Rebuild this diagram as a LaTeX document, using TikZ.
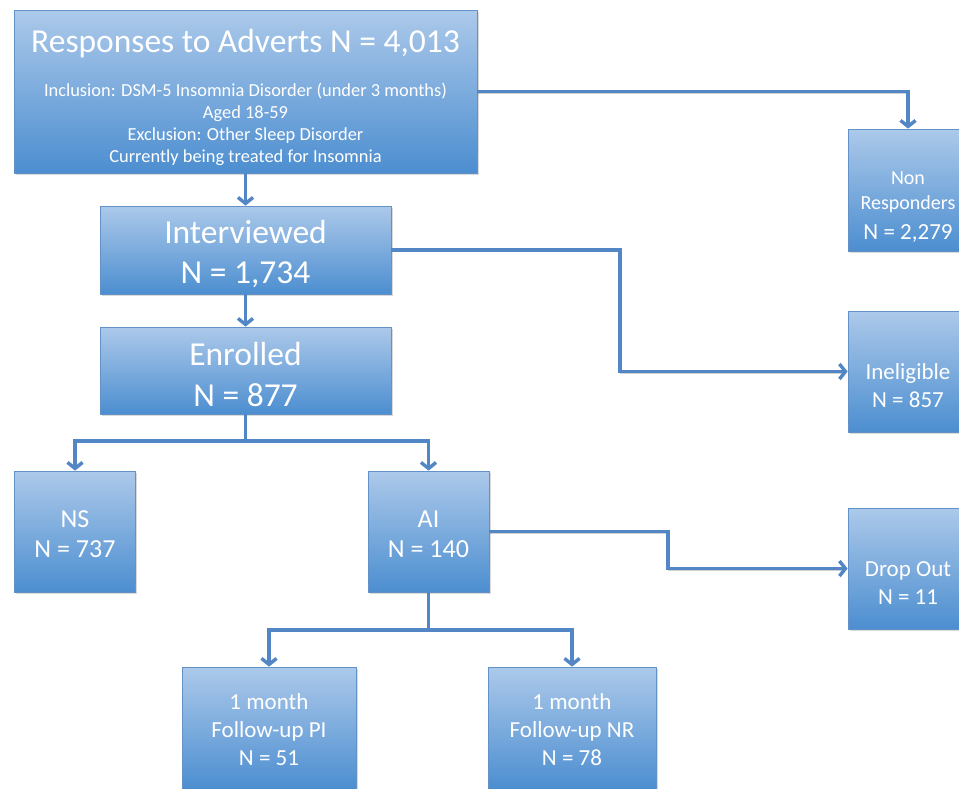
\documentclass[tikz,border=0pt]{standalone}
\usepackage{fontspec}
\setmainfont{Carlito}
\usetikzlibrary{arrows.meta,shadows}
\definecolor{ln}{RGB}{82,134,196}
\definecolor{btop}{RGB}{172,201,234}
\definecolor{bbot}{RGB}{76,142,208}
\definecolor{bdr}{RGB}{98,146,200}
\begin{document}
\begin{tikzpicture}[x=1pt,y=-1pt,
  box/.style={draw=bdr, line width=0.8pt, top color=btop, bottom color=bbot, inner sep=0pt,
    drop shadow={shadow xshift=1.8pt,shadow yshift=-1.8pt,opacity=0.3}},
  txt/.style={text=white, align=center, inner sep=0pt, font=\fontsize{23}{28}\selectfont},
  mid/.style={txt, font=\fontsize{26}{30}\selectfont},
  big/.style={txt, font=\fontsize{33.5}{40.5}\selectfont},
  small/.style={txt, font=\fontsize{18.4}{21.9}\selectfont},
  lnshadow/.style={preaction={draw=black, opacity=0.18, transform canvas={xshift=0.6pt,yshift=-1.6pt}}},
  conn/.style={draw=ln, line width=3.4pt, lnshadow, -{Straight Barb[length=6pt,width=15pt]}},
  plainln/.style={draw=ln, line width=3.4pt, lnshadow}]
\clip (0,0) rectangle (959,788);
% boxes
\node[box, minimum width=463pt, minimum height=163pt] (top) at (245.5,91.5) {};
\node[box, minimum width=120pt, minimum height=122pt] (non) at (908,190) {};
\node[box, minimum width=291pt, minimum height=88pt] (int) at (245.5,250) {};
\node[box, minimum width=291pt, minimum height=87pt] (enr) at (245.5,370.5) {};
\node[box, minimum width=120pt, minimum height=121pt] (inel) at (908,371.5) {};
\node[box, minimum width=121pt, minimum height=121pt] (ns) at (75,531.5) {};
\node[box, minimum width=121pt, minimum height=121pt] (ai) at (428.5,531.5) {};
\node[box, minimum width=120pt, minimum height=121pt] (drop) at (908,568.5) {};
\node[box, minimum width=174pt, minimum height=122pt] (pi) at (269,728) {};
\node[box, minimum width=168pt, minimum height=122pt] (nr) at (572,728) {};
% texts
\node[big] (topT) at (245.5,43.5) {Responses to Adverts N = 4,013};
\node[small] (topS) at (245.5,124) {Inclusion: DSM-5 Insomnia Disorder (under 3 months)\\Aged 18-59\\Exclusion: Other Sleep Disorder\\Currently being treated for Insomnia};
\node[txt] (nonT) at (908,207) {{\fontsize{20}{25}\selectfont Non}\\[-3pt]{\fontsize{20}{25}\selectfont Responders}\\[2pt]N = 2,279};
\node[big] (intT) at (245.5,254) {Interviewed\\N = 1,734};
\node[big] (enrT) at (245.5,374.5) {Enrolled\\N = 877};
\node[txt] (inelT) at (908,385.5) {Ineligible\\N = 857};
\node[mid] (nsT) at (75,534) {NS\\N = 737};
\node[mid] (aiT) at (428.5,534) {AI\\N = 140};
\node[txt] (dropT) at (908,583.5) {Drop Out\\N = 11};
\node[txt] (piT) at (269,730) {1 month\\Follow-up PI\\N = 51};
\node[txt] (nrT) at (572,730) {1 month\\Follow-up NR\\N = 78};
% junction coordinates
\coordinate (k1) at (620,300);
\coordinate (k2) at (668,550);
\coordinate (k3) at (245.5,441);
\coordinate (k4) at (428.5,630);
% connectors
\draw[conn] (top.south) -- (int.north);
\draw[conn] (top.east) -| (non.north);
\draw[conn] (int.south) -- (enr.north);
\draw[conn] (int.east) -| (k1) |- (inel.west);
\draw[plainln] (enr.south) -- (k3);
\draw[conn] (k3) -| (ns.north);
\draw[conn] (k3) -| (ai.north);
\draw[conn] (ai.east) -| (k2) |- (drop.west);
\draw[plainln] (ai.south) -- (k4);
\draw[conn] (k4) -| (pi.north);
\draw[conn] (k4) -| (nr.north);
\end{tikzpicture}
\end{document}
